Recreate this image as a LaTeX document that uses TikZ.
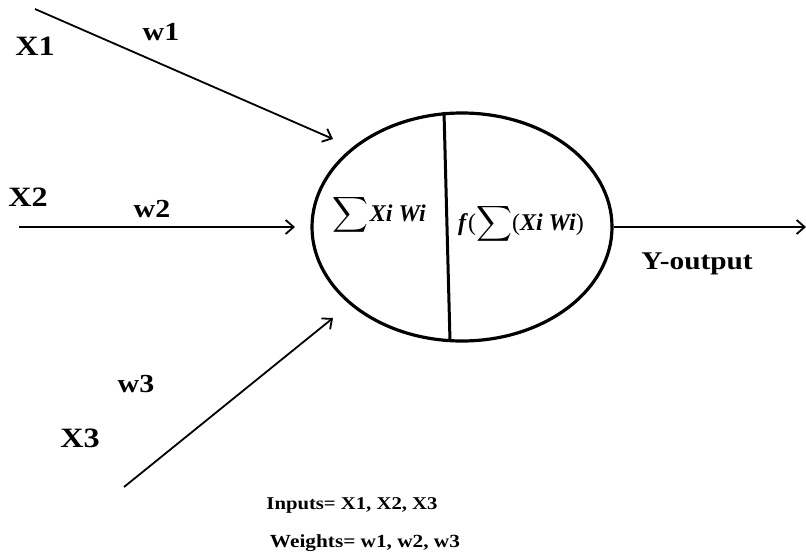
\documentclass[tikz,border=0pt]{standalone}
\usepackage{amsmath}
\usepackage{fontspec}
\setmainfont{Liberation Serif}
\usetikzlibrary{arrows.meta,shapes.geometric}
\newcommand\widelbl[2]{\scalebox{1.15}[1]{\fontsize{#1}{#1}\selectfont\bfseries #2}}
\newcommand\bigsum{{\fontsize{26}{26}\selectfont$\displaystyle\sum$}}
\newcommand\fxt[1]{{\fontsize{24}{24}\selectfont #1}}
\tikzset{
  lbl/.style={inner sep=0pt, anchor=center},
  conn/.style={line width=1.8pt, -{Straight Barb[length=8pt,width=14pt,line width=1.8pt]}},
  neuronstyle/.style={ellipse, draw, line width=3.2pt, minimum width=300pt, minimum height=228pt, inner sep=0pt}
}
\begin{document}
\begin{tikzpicture}[x=1pt,y=-1pt]
\useasboundingbox (0,0) rectangle (806,558);
\fill[white] (0,0) rectangle (806,558);
\node[neuronstyle] (neuron) at (462,227) {};
\coordinate (divtop) at (444,112);
\coordinate (divbot) at (450,341);
\draw[line width=3pt] (divtop) -- (divbot);
% inputs
\coordinate (s1) at (35,9);
\coordinate (e1) at (333,139);
\coordinate (s2) at (19,227);
\coordinate (e2) at (295,227);
\coordinate (s3) at (124,487);
\coordinate (e3) at (333,318);
\coordinate (out) at (806,227);
\draw[conn] (s1) -- (e1);
\draw[conn] (s2) -- (e2);
\draw[conn] (s3) -- (e3);
\draw[conn] (neuron.east) -- (out);
% labels
\node[lbl] (x1) at (35,46) {\widelbl{28}{X1}};
\node[lbl] (w1) at (161,32) {\widelbl{26}{w1}};
\node[lbl] (x2) at (28,197) {\widelbl{28}{X2}};
\node[lbl] (w2) at (152,209) {\widelbl{26}{w2}};
\node[lbl] (w3) at (136,384) {\widelbl{26}{w3}};
\node[lbl] (x3) at (80,438) {\widelbl{28}{X3}};
\node[lbl] (yout) at (697,264) {\widelbl{25.5}{Y-output}};
\node[lbl] (inputs) at (352,505) {\widelbl{18}{Inputs= X1, X2, X3}};
\node[lbl] (weights) at (365,543) {\widelbl{18.5}{Weights= w1, w2, w3}};
% formulas
\node[lbl] (sumA) at (379,215) {\bigsum\,\fxt{\textbf{\textit{Xi Wi}}}};
\node[lbl] (sumB) at (521,224) {\fxt{\textbf{\textit{f}}(}\bigsum\fxt{(\textbf{\textit{Xi Wi}})}};
\end{tikzpicture}
\end{document}
